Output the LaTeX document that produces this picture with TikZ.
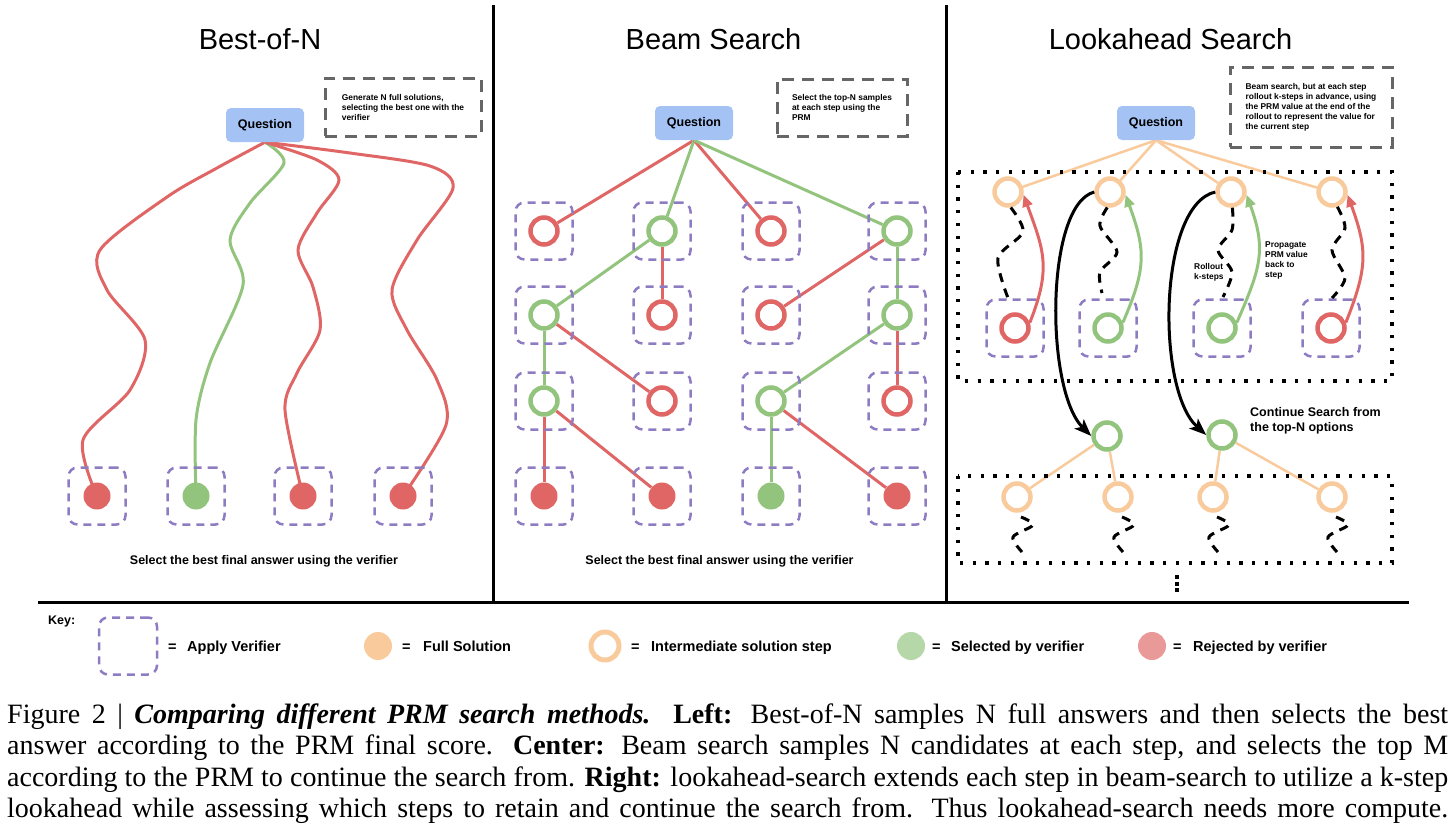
\documentclass[tikz,border=0pt]{standalone}
\usepackage{fontspec}
\newfontfamily\sans{Liberation Sans}
\newfontfamily\capfont{Liberation Serif}
\usetikzlibrary{arrows.meta,backgrounds}
\definecolor{qblue}{HTML}{A4C2F4}
\definecolor{rred}{HTML}{E06666}
\definecolor{ggreen}{HTML}{93C47D}
\definecolor{purp}{HTML}{8E7CC3}
\definecolor{orng}{HTML}{F9CB9C}
\definecolor{dgray}{HTML}{666666}
\definecolor{keyred}{HTML}{EA9999}
\definecolor{keygreen}{HTML}{B6D7A8}
\tikzset{
  framel/.style={line width=3pt, black},
  titletxt/.style={font=\sans\fontsize{29}{34}\selectfont, inner sep=0},
  qbox/.style={fill=qblue, rounded corners=5pt, minimum width=78pt, minimum height=34pt, inner sep=0, font=\sans\bfseries\fontsize{12.5}{15}\selectfont},
  notebox/.style={draw=dgray, line width=3pt, dash pattern=on 12pt off 8pt, align=left, inner sep=0, font=\sans\bfseries\fontsize{8.4}{10}\selectfont},
  ver/.style={draw=purp, line width=2.5pt, dash pattern=on 8pt off 6pt, rounded corners=9pt, minimum width=57pt, minimum height=57pt, inner sep=0},
  ring/.style={circle, draw=#1, line width=4.5pt, fill=white, minimum size=27pt, inner sep=0},
  fdot/.style={circle, fill=#1, minimum size=27pt, inner sep=0},
  ln/.style={line width=3pt},
  thinln/.style={line width=2.5pt},
  roll/.style={line width=3pt, dash pattern=on 9pt off 7pt},
  dotbox/.style={line width=3.3pt, dash pattern=on 3.3pt off 9.4pt},
  lbl/.style={font=\sans\bfseries\fontsize{12.5}{15}\selectfont, inner sep=0},
  smalltxt/.style={font=\sans\bfseries\fontsize{8.4}{10}\selectfont, inner sep=0, align=left},
  keytxt/.style={font=\sans\bfseries\fontsize{14.5}{17}\selectfont, inner sep=0, anchor=base west},
  captxt/.style={anchor=base west, inner sep=0, font=\capfont\fontsize{28}{31.5}\selectfont},
}
\newcommand{\capline}[1]{\makebox[1441pt][s]{#1}}
\begin{document}
\begin{tikzpicture}[x=1pt,y=-1pt]
\useasboundingbox (0,0) rectangle (1456,835);

% frame
\draw[framel] (493,5) -- (493,602);
\draw[framel] (946,5) -- (946,602);
\draw[framel] (38,602) -- (1409,602);

% ---------------- Best-of-N ----------------
\node[titletxt] (tt1) at (260,39.5) {Best-of-N};
\node[qbox] (q1) at (265,125) {Question};
\node[notebox, minimum width=156pt, minimum height=58pt] (n1) at (403,107) {Generate N full solutions,\\selecting the best one with the\\verifier};
\foreach \i/\x/\c in {1/97/rred,2/196/ggreen,3/303/rred,4/403/rred}{
  \node[ver] (v\i) at (\x,496) {};
  \node[fdot=\c] (d\i) at (\x,496) {};
}
\node[lbl] (s1) at (264,561) {Select the best final answer using the verifier};

% ---------------- Beam Search ----------------
\node[titletxt] (tt2) at (713.5,39.5) {Beam Search};
\node[qbox] (q2) at (694,123) {Question};
\node[notebox, minimum width=130pt, minimum height=57pt] (n2) at (842,107.5) {Select the top-N samples\\at each step using the\\PRM};
\foreach \r/\y in {1/231,2/315,3/401,4/496}{
  \foreach \c/\x in {1/544,2/662,3/771,4/897}{
    \node[ver] (bv\r\c) at (\x,\y) {};
  }
}
\node[ring=rred]   (b11) at (544,231) {};
\node[ring=ggreen] (b12) at (662,231) {};
\node[ring=rred]   (b13) at (771,231) {};
\node[ring=ggreen] (b14) at (897,231) {};
\node[ring=ggreen] (b21) at (544,315) {};
\node[ring=rred]   (b22) at (662,315) {};
\node[ring=rred]   (b23) at (771,315) {};
\node[ring=ggreen] (b24) at (897,315) {};
\node[ring=ggreen] (b31) at (544,401) {};
\node[ring=rred]   (b32) at (662,401) {};
\node[ring=ggreen] (b33) at (771,401) {};
\node[ring=rred]   (b34) at (897,401) {};
\node[fdot=rred]   (b41) at (544,496) {};
\node[fdot=rred]   (b42) at (662,496) {};
\node[fdot=ggreen] (b43) at (771,496) {};
\node[fdot=rred]   (b44) at (897,496) {};
\node[lbl] (s2) at (719.5,561) {Select the best final answer using the verifier};

% ---------------- Lookahead Search ----------------
\node[titletxt] (tt3) at (1170.5,39.5) {Lookahead Search};
\node[qbox] (q3) at (1156,123) {Question};
\node[notebox, minimum width=162pt, minimum height=80pt] (n3) at (1311,107) {Beam search, but at each step\\rollout k-steps in advance, using\\the PRM value at the end of the\\rollout to represent the value for\\the current step};
\draw[dotbox] (958,172) rectangle (1392,381);
\draw[dotbox] (958,476) rectangle (1392,563);
\node[ring=orng] (t1) at (1008,192) {};
\node[ring=orng] (t2) at (1110,192) {};
\node[ring=orng] (t3) at (1231,192) {};
\node[ring=orng] (t4) at (1332,192) {};
\node[ver] (lv1) at (1015,328) {};
\node[ver] (lv2) at (1108,328) {};
\node[ver] (lv3) at (1222,328) {};
\node[ver] (lv4) at (1331,328) {};
\node[ring=rred]   (lb1) at (1015,328) {};
\node[ring=ggreen] (lb2) at (1108,328) {};
\node[ring=ggreen] (lb3) at (1222,328) {};
\node[ring=rred]   (lb4) at (1331,328) {};
\node[ring=ggreen] (m1) at (1107,436) {};
\node[ring=ggreen] (m2) at (1222,435) {};
\node[ring=orng] (o1) at (1017,497) {};
\node[ring=orng] (o2) at (1118,497) {};
\node[ring=orng] (o3) at (1213,497) {};
\node[ring=orng] (o4) at (1332,497) {};
\node[lbl, align=left, anchor=west] (cs) at (1250,420.5) {Continue Search from\\the top-N options};
\node[smalltxt, anchor=west] (ro) at (1194,272) {Rollout\\k-steps};
\node[smalltxt, anchor=west] (pp) at (1265,260.5) {Propagate\\PRM value\\back to\\step};

% rollouts
\draw[roll] plot[smooth] coordinates {(t1.-80) (1023,232) (998,258) (1008,298)};
\draw[roll] plot[smooth] coordinates {(t2.-100) (1100,226) (1117,252) (1100,272) (1102,293)};
\draw[roll] plot[smooth] coordinates {(t3.-85) (1232,230) (1218,250) (1232,272) (1223,297)};
\draw[roll] plot[smooth] coordinates {(t4.-70) (1345,228) (1332,250) (1345,278) (1332,298)};
\foreach \o in {o1,o2,o3,o4}{
  \begin{scope}[shift={(\o)}]
    \draw[roll] plot[smooth] coordinates {(4,20) (16,28) (-4,40) (5,55)};
  \end{scope}
}
\draw[line width=3.3pt, dash pattern=on 4pt off 2.7pt] (1177,575) -- (1177,592);

% propagate arrows
\draw[ln, rred, -{Triangle[length=12pt,width=10pt]}] (lb1.20) .. controls +(22,-55) and +(20,55) .. (t1.-10);
\draw[ln, ggreen, -{Triangle[length=12pt,width=10pt]}] (lb2.20) .. controls +(24,-55) and +(20,55) .. (t2.-10);
\draw[ln, ggreen, -{Triangle[length=12pt,width=10pt]}] (lb3.20) .. controls +(24,-55) and +(20,55) .. (t3.-10);
\draw[ln, rred, -{Triangle[length=12pt,width=10pt]}] (lb4.20) .. controls +(22,-55) and +(20,55) .. (t4.-10);
% continue arrows
\draw[ln, -{Stealth[length=17pt,width=13pt,inset=4pt]}] (t2.west) .. controls (1045,205) and (1045,390) .. (m1.west);
\draw[ln, -{Stealth[length=17pt,width=13pt,inset=4pt]}] (t3.west) .. controls (1158,205) and (1156,390) .. (m2.west);

% ---------------- edges on background ----------------
\begin{scope}[on background layer]
\draw[ln,rred] plot[smooth] coordinates {(q1.south) (217,168) (167,197) (100,250) (107,290) (145,340) (130,390) (83,440) (d1)};
\draw[ln,ggreen] plot[smooth] coordinates {(q1.south) (284,163) (250,203) (230,240) (243,285) (210,363) (196,420) (d2)};
\draw[ln,rred] plot[smooth] coordinates {(q1.south) (317,160) (339,180) (317,213) (298,250) (313,287) (320,330) (297,373) (285,410) (d3)};
\draw[ln,rred] plot[smooth] coordinates {(q1.south) (350,153) (430,166) (453,188) (417,240) (392,290) (407,330) (437,380) (446,425) (d4)};

\draw[ln,rred]   (q2.south) -- (b11);
\draw[ln,ggreen] (q2.south) -- (b12);
\draw[ln,rred]   (q2.south) -- (b13);
\draw[ln,ggreen] (q2.south) -- (b14);
\draw[ln,ggreen] (b12) -- (b21);
\draw[ln,rred]   (b12) -- (b22);
\draw[ln,rred]   (b14) -- (b23);
\draw[ln,ggreen] (b14) -- (b24);
\draw[ln,ggreen] (b21) -- (b31);
\draw[ln,rred]   (b21) -- (b32);
\draw[ln,ggreen] (b24) -- (b33);
\draw[ln,rred]   (b24) -- (b34);
\draw[ln,rred]   (b31) -- (b41);
\draw[ln,rred]   (b31) -- (b42);
\draw[ln,ggreen] (b33) -- (b43);
\draw[ln,rred]   (b33) -- (b44);

\foreach \t in {t1,t2,t3,t4}{ \draw[thinln,orng] (q3.south) -- (\t); }
\draw[thinln,orng] (m1) -- (o1);
\draw[thinln,orng] (m1) -- (o2);
\draw[thinln,orng] (m2) -- (o3);
\draw[thinln,orng] (m2) -- (o4);
\end{scope}

% ---------------- Key ----------------
\node[keytxt, font=\sans\bfseries\fontsize{12.5}{15}\selectfont] (key) at (48,624) {Key:};
\node[ver, minimum width=58pt, minimum height=57pt] (kv) at (128,646) {};
\node[keytxt] (ke1) at (168,651) {=};
\node[keytxt] (kt1) at (187,651) {Apply Verifier};
\node[fdot=orng, minimum size=28pt] (kd2) at (378,646) {};
\node[keytxt] (ke2) at (402,651) {=};
\node[keytxt] (kt2) at (423,651) {Full Solution};
\node[ring=orng, minimum size=28pt, line width=5pt] (kd3) at (605,646) {};
\node[keytxt] (ke3) at (631,651) {=};
\node[keytxt] (kt3) at (651,651) {Intermediate solution step};
\node[fdot=keygreen, minimum size=28pt] (kd4) at (911,646) {};
\node[keytxt] (ke4) at (932,651) {=};
\node[keytxt] (kt4) at (951,651) {Selected by verifier};
\node[fdot=keyred, minimum size=28pt] (kd5) at (1152,646) {};
\node[keytxt] (ke5) at (1173,651) {=};
\node[keytxt] (kt5) at (1193,651) {Rejected by verifier};

% ---------------- Caption ----------------
\node[captxt] (cap1) at (7,723) {\capline{Figure 2 | \textbf{\textit{Comparing different PRM search methods.}} \textbf{Left:} Best-of-N samples N full answers and then selects the best}};
\node[captxt] (cap2) at (7,754.5) {\capline{answer according to the PRM final score. \textbf{Center:} Beam search samples N candidates at each step, and selects the top M}};
\node[captxt] (cap3) at (7,786) {\capline{according to the PRM to continue the search from. \textbf{Right:} lookahead-search extends each step in beam-search to utilize a k-step}};
\node[captxt] (cap4) at (7,817.5) {\capline{lookahead while assessing which steps to retain and continue the search from. Thus lookahead-search needs more compute.}};
\end{tikzpicture}
\end{document}
